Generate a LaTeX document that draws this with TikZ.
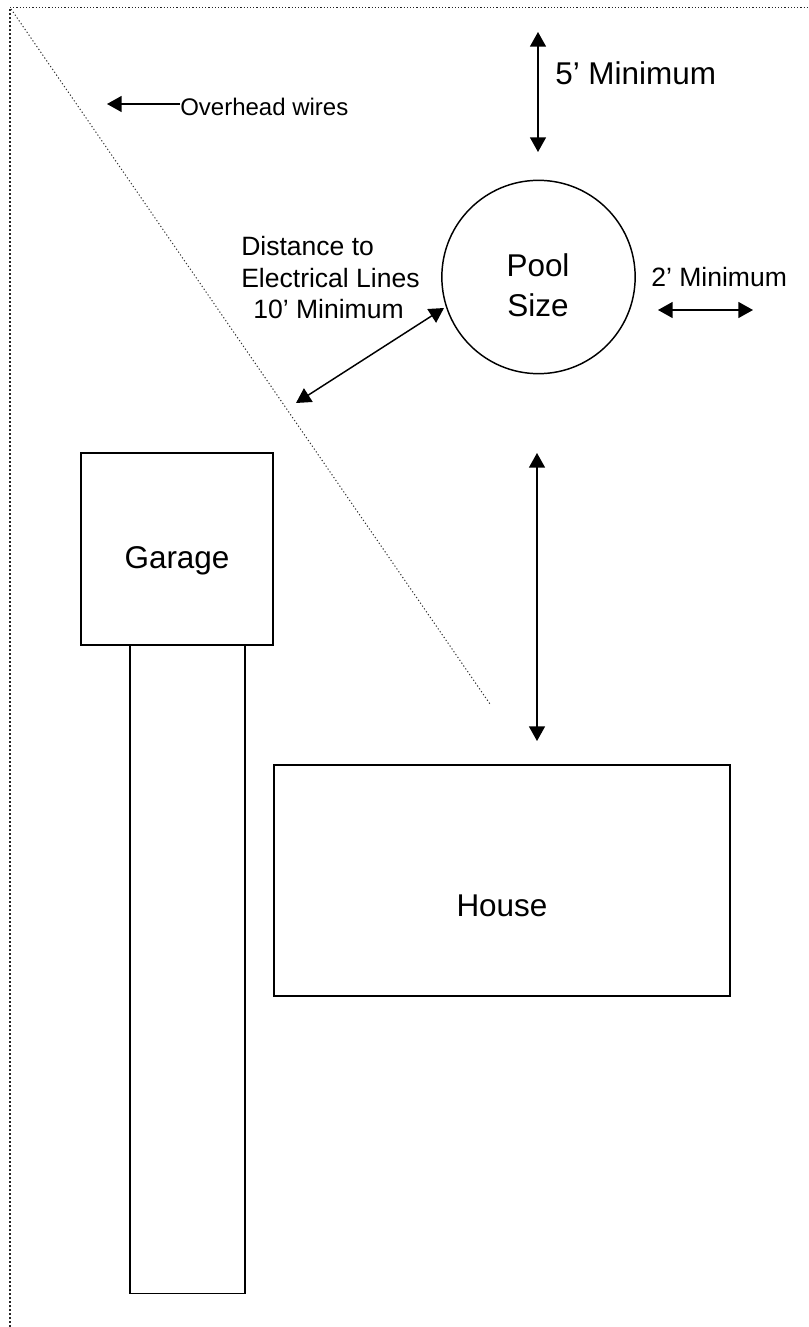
\documentclass[tikz,border=0pt]{standalone}
\usepackage{fontspec}
\setmainfont{Liberation Sans}
\usetikzlibrary{calc,positioning,arrows.meta}
\tikzset{
  plan/.style={draw=black,line width=1.1pt,inner sep=0pt},
  edgeleft/.style={line width=1.5pt,dash pattern=on 1.5pt off 1.5pt,black!85},
  edgetop/.style={line width=0.75pt,dash pattern=on 0.9pt off 1.5pt,black!85},
  wire/.style={line width=0.75pt,dash pattern=on 0.9pt off 1.7pt,black!80},
  measureone/.style={-{Triangle[length=11pt,width=12pt]},line width=1.1pt},
  measuretwo/.style={{Triangle[length=11pt,width=12pt]}-{Triangle[length=11pt,width=12pt]},line width=1.1pt},
  label/.style={inner sep=0pt,anchor=base west},
  title/.style={inner sep=0pt,anchor=base,font=\sizeA},
}
\newcommand{\sizeA}{\fontsize{23.6pt}{33pt}\selectfont}
\newcommand{\sizeB}{\fontsize{18pt}{24pt}\selectfont}
\newcommand{\sizeC}{\fontsize{19.9pt}{24pt}\selectfont}
\begin{document}
\begin{tikzpicture}[x=0.75pt,y=-0.75pt]
\useasboundingbox (0,0) rectangle (809,1327);
\coordinate(corner) at(10,8);
\coordinate(topend) at(809,8);
\coordinate(botend) at(10,1327);
\draw[edgeleft](botend)--(corner);
\draw[edgetop](corner)--(topend);
\coordinate(wirestart) at(11,9);
\coordinate(wireend) at(490,704);
\draw[wire](wirestart)--(wireend);
% buildings
\node[plan,minimum width=86.25pt,minimum height=486pt,anchor=north](drive) at(187.5,645){};
\node[plan,minimum width=144pt,minimum height=144pt](garage) at(177,549){};
\node[plan,minimum width=342pt,minimum height=173pt](house) at(502,880.5){};
\node[plan,circle,minimum size=145pt](pool) at(538.5,277){};
% labels
\node[title](garagetext) at(177,568){Garage};
\node[title](housetext) at(502,916){House};
\node[title](pooltext) at(538,276){Pool};
\node[title](sizetext) at(538,316){Size};
\node[label,font=\sizeB](wires) at(180,116){Overhead wires};
\node[label,font=\sizeA](five) at(555,85){5’ Minimum};
\node[label,font=\sizeC](two) at(651,286){2’ Minimum};
\node[label,font=\sizeC](dist) at(241,255){Distance to};
\node[label,font=\sizeC](distb) at(241,287){Electrical Lines};
\node[label,font=\sizeC](distc) at(253,318){10’ Minimum};
% arrows
\coordinate(fivetop) at(538,32);
\coordinate(fivebot) at(538,152);
\draw[measuretwo](fivetop)--(fivebot);
\coordinate(wirehead) at(107,104);
\draw[measureone](wires.west|-wirehead)--(wirehead);
\coordinate(distwire) at(296,403);
\coordinate(distpool) at(444,308);
\draw[measuretwo](distwire)--(distpool);
\coordinate(twoleft) at(658,310);
\coordinate(tworight) at(753,310);
\draw[measuretwo](twoleft)--(tworight);
\coordinate(housetop) at(537,453);
\coordinate(housebot) at(537,741);
\draw[measuretwo](housetop)--(housebot);
\end{tikzpicture}
\end{document}
